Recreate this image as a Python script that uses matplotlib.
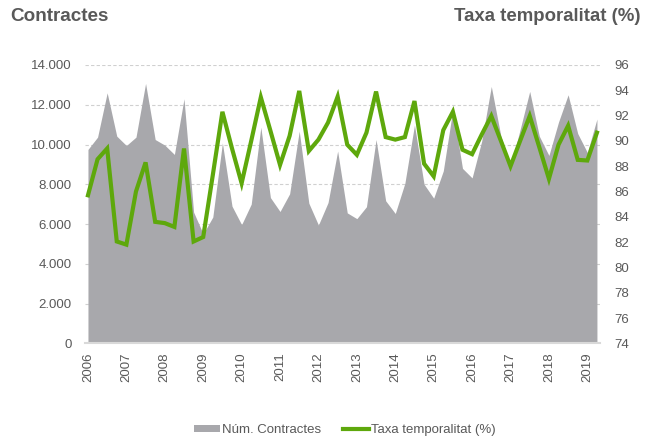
import matplotlib
matplotlib.use("Agg")
import matplotlib.pyplot as plt
from matplotlib.patches import Patch
from matplotlib.lines import Line2D
from matplotlib.ticker import FuncFormatter, MultipleLocator
import numpy as np

# Quarterly data 2006Q1 .. 2019Q2
contractes = [9750, 10370, 12600, 10420, 9950, 10370, 13070, 10250,
              9970, 9500, 12300, 6600, 5500, 6350, 10080, 6900,
              5970, 7000, 10870, 7330, 6630, 7520, 10670, 7050,
              5950, 7080, 9670, 6560, 6270, 6870, 10250, 7170,
              6530, 8050, 10980, 8000, 7300, 8670, 11780, 8800,
              8320, 10170, 12920, 10420, 8900, 10750, 12670, 10420,
              9450, 11130, 12500, 10550, 9600, 11280]
taxa = [85.7, 88.55, 89.4, 82.05, 81.8, 86.0, 88.3, 83.6,
        83.5, 83.2, 89.4, 82.05, 82.4, 87.3, 92.3, 89.4,
        86.65, 90.0, 93.45, 90.8, 88.1, 90.4, 93.95, 89.2,
        90.1, 91.45, 93.5, 89.7, 88.9, 90.65, 93.9, 90.3,
        90.1, 90.3, 93.15, 88.2, 87.2, 90.85, 92.3, 89.3,
        88.95, 90.5, 91.97, 90.0, 88.0, 90.0, 91.97, 89.5,
        87.0, 89.7, 91.2, 88.5, 88.45, 90.65]
years = list(range(2006, 2020))

serie1 = "Núm. Contractes"
serie2 = "Taxa temporalitat (%)"

GRAY = "#A8A8AC"
GREEN = "#5EA80C"
TXT = "#595959"
narrow = ["Liberation Sans Narrow", "Liberation Sans", "DejaVu Sans"]
bold = ["Liberation Sans", "DejaVu Sans"]

fig = plt.figure(figsize=(6.53, 4.37), dpi=100)
ax = fig.add_axes([0.130, 0.2144, 0.789, 0.6369])
ax2 = ax.twinx()

x = np.arange(len(contractes))
ax.fill_between(x, 0, contractes, color=GRAY, lw=0, zorder=2)
ax.set_ylim(0, 14000)
ax.yaxis.set_major_locator(MultipleLocator(2000))
ax.yaxis.set_major_formatter(FuncFormatter(lambda v, p: f"{int(v):,}".replace(",", ".")))
ax.grid(axis="y", color="#D0D0D0", ls=(0, (3, 2)), lw=0.8, zorder=0)
ax.set_axisbelow(True)
ax.set_xlim(-0.32, len(contractes) - 1 + 0.33)

ax2.plot(x, taxa, color=GREEN, lw=3, zorder=3, solid_joinstyle="miter")
ax2.set_ylim(74, 96)
ax2.yaxis.set_major_locator(MultipleLocator(2))

ax.set_xticks(x[::4])
ax.set_xticklabels([str(y) for y in years], rotation=90)

for a in (ax, ax2):
    for s in a.spines.values():
        s.set_visible(False)
    a.tick_params(length=0, colors=TXT, labelsize=9.5)
ax.spines["bottom"].set_visible(True)
ax.spines["bottom"].set_color("#D9D9D9")
ax.spines["bottom"].set_linewidth(1.5)
ax.tick_params(axis="y", pad=9.5)
ax.tick_params(axis="x", pad=6.5)
ax2.tick_params(axis="y", pad=10.5)
for lab in ax.get_xticklabels() + ax.get_yticklabels() + ax2.get_yticklabels():
    lab.set_family(narrow)
    lab.set_color(TXT)

fig.text(0.015, 0.962, "Contractes", fontsize=13.6, fontweight="bold", color=TXT,
         family=bold, ha="left", va="center")
fig.text(0.981, 0.962, serie2, fontsize=13.4, fontweight="bold", color=TXT,
         family=bold, ha="right", va="center")

handles = [Patch(facecolor=GRAY, edgecolor="none", label=serie1),
           Line2D([0], [0], color=GREEN, lw=3, label=serie2)]
leg = fig.legend(handles=handles, loc="center", bbox_to_anchor=(0.528, 0.016),
                 ncol=2, frameon=False, handlelength=2.0, handleheight=0.5,
                 handletextpad=0.15, columnspacing=1.6,
                 prop={"family": narrow, "size": 9.5})
for t in leg.get_texts():
    t.set_color(TXT)

fig.savefig("out.png", dpi=100)
